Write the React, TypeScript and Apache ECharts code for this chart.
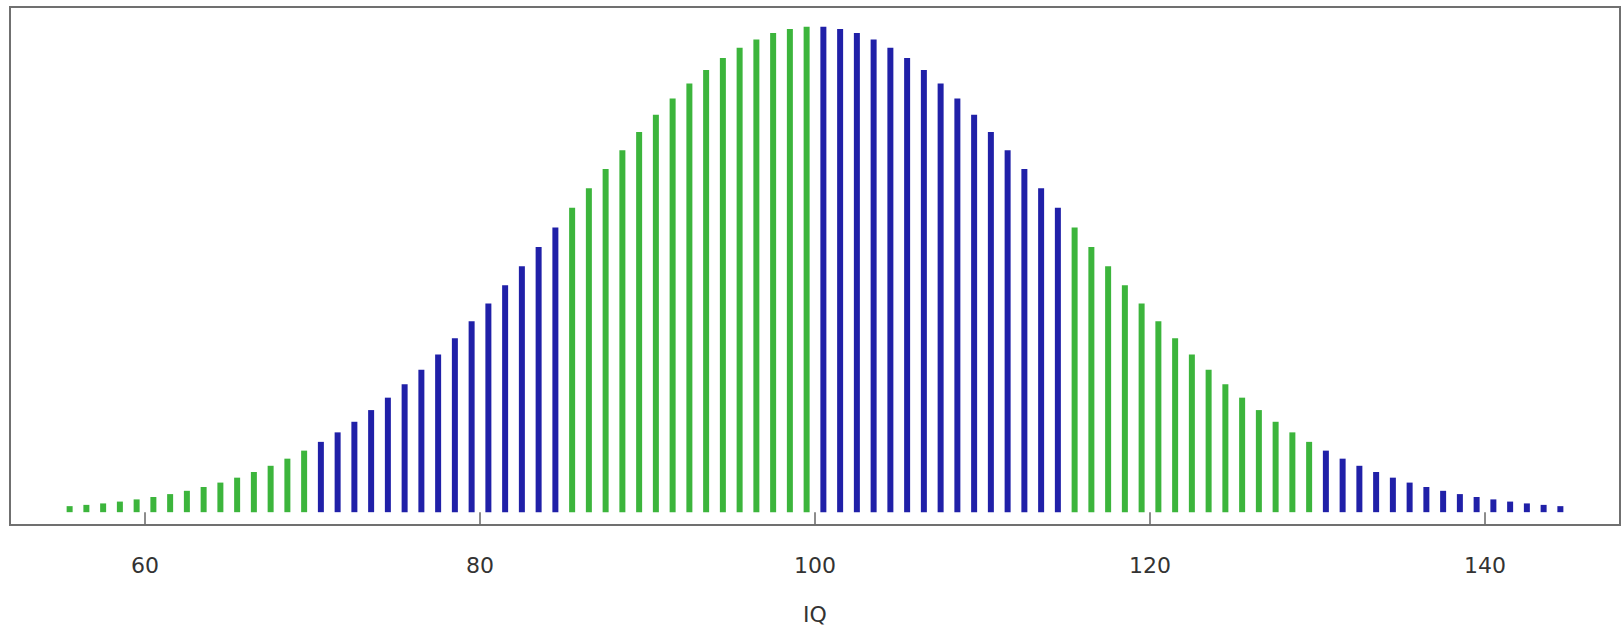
import React, { useEffect, useRef } from "react";
import * as echarts from "echarts";

// Bar positions (IQ, bar centres at half-integers)
const iq: number[] = [
  55.5, 56.5, 57.5, 58.5, 59.5, 60.5, 61.5, 62.5, 63.5, 64.5,
  65.5, 66.5, 67.5, 68.5, 69.5, 70.5, 71.5, 72.5, 73.5, 74.5,
  75.5, 76.5, 77.5, 78.5, 79.5, 80.5, 81.5, 82.5, 83.5, 84.5,
  85.5, 86.5, 87.5, 88.5, 89.5, 90.5, 91.5, 92.5, 93.5, 94.5,
  95.5, 96.5, 97.5, 98.5, 99.5, 100.5, 101.5, 102.5, 103.5, 104.5,
  105.5, 106.5, 107.5, 108.5, 109.5, 110.5, 111.5, 112.5, 113.5, 114.5,
  115.5, 116.5, 117.5, 118.5, 119.5, 120.5, 121.5, 122.5, 123.5, 124.5,
  125.5, 126.5, 127.5, 128.5, 129.5, 130.5, 131.5, 132.5, 133.5, 134.5,
  135.5, 136.5, 137.5, 138.5, 139.5, 140.5, 141.5, 142.5, 143.5, 144.5,
];

// Bar heights (density, in %)
const density: number[] = [
  0.033, 0.040, 0.048, 0.058, 0.070, 0.083, 0.099, 0.117, 0.138, 0.162,
  0.189, 0.220, 0.254, 0.293, 0.337, 0.385, 0.437, 0.495, 0.559, 0.627,
  0.701, 0.780, 0.863, 0.952, 1.045, 1.143, 1.243, 1.347, 1.452, 1.559,
  1.667, 1.774, 1.879, 1.982, 2.082, 2.176, 2.265, 2.347, 2.421, 2.487,
  2.543, 2.588, 2.623, 2.646, 2.658, 2.658, 2.646, 2.623, 2.588, 2.543,
  2.487, 2.421, 2.347, 2.265, 2.176, 2.082, 1.982, 1.879, 1.774, 1.667,
  1.559, 1.452, 1.347, 1.243, 1.143, 1.045, 0.952, 0.863, 0.780, 0.701,
  0.627, 0.559, 0.495, 0.437, 0.385, 0.337, 0.293, 0.254, 0.220, 0.189,
  0.162, 0.138, 0.117, 0.099, 0.083, 0.070, 0.058, 0.048, 0.040, 0.033,
];

// Colour bands: band i covers IQ from bandEdges[i] to bandEdges[i+1]
const bandEdges: number[] = [55, 70, 85, 100, 115, 130, 145];
const bandColours: string[] = ["#3cb53c", "#2020a8", "#3cb53c", "#2020a8", "#3cb53c", "#2020a8"];

const tickValues: number[] = [60, 80, 100, 120, 140];
const xName = "IQ";

function colourFor(x: number): string {
  for (let i = 0; i < bandColours.length; i++) {
    if (x >= bandEdges[i] && x < bandEdges[i + 1]) return bandColours[i];
  }
  return bandColours[bandColours.length - 1];
}

export default function App() {
  const ref = useRef<HTMLDivElement>(null);
  useEffect(() => {
    if (!ref.current) return;
    const chart = echarts.init(ref.current, undefined, { renderer: "svg" });
    const data = iq.map((x, i) => ({
      value: [x, density[i]],
      itemStyle: { color: colourFor(x) },
    }));
    chart.setOption({
      animation: false,
      backgroundColor: "#ffffff",
      grid: {
        left: 10,
        right: 2,
        top: 7,
        bottom: 98,
        show: true,
        borderColor: "#707070",
        borderWidth: 2,
        backgroundColor: "transparent",
      },
      xAxis: {
        type: "value",
        min: 51.94,
        max: 148.06,
        name: xName,
        nameLocation: "middle",
        nameGap: 78,
        nameTextStyle: { fontFamily: "DejaVu Sans", fontSize: 22, color: "#333" },
        splitLine: { show: false },
        axisLine: { show: false },
        axisTick: {
          show: true,
          customValues: tickValues,
          length: 12,
          lineStyle: { color: "#666", width: 1.5 },
        },
        axisLabel: {
          customValues: tickValues,
          margin: 29,
          fontFamily: "DejaVu Sans",
          fontSize: 22,
          color: "#333",
        },
      },
      yAxis: {
        type: "value",
        min: -0.0702,
        max: 2.766,
        show: false,
        splitLine: { show: false },
      },
      series: [
        {
          type: "bar",
          data,
          barWidth: 6,
          silent: true,
        },
      ],
    });
    return () => chart.dispose();
  }, []);
  return (
    <div
      ref={ref}
      style={{ position: "fixed", left: 0, top: 0, width: 1622, height: 630, background: "#fff" }}
    />
  );
}
